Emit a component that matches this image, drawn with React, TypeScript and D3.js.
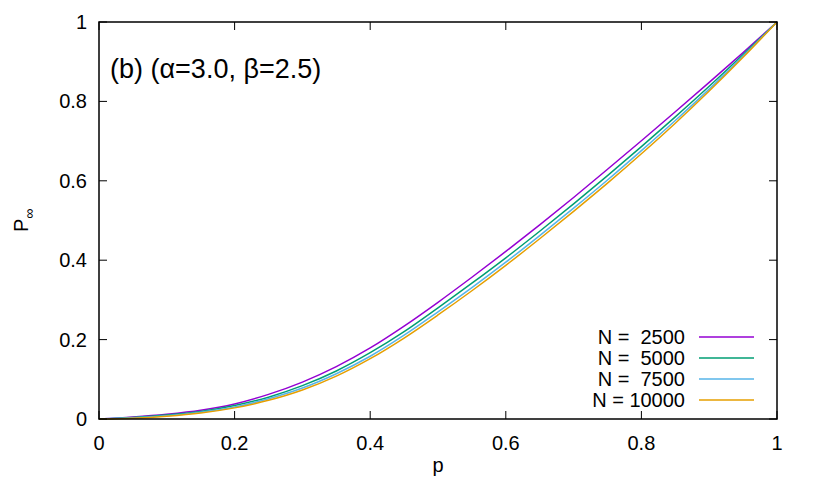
import React from "react";
import * as d3 from "d3";

const pValues = [0, 0.05, 0.1, 0.15, 0.2, 0.25, 0.3, 0.35, 0.4, 0.45, 0.5, 0.55, 0.6, 0.65, 0.7, 0.75, 0.8, 0.85, 0.9, 0.95, 1.0];
const n2500 = [0, 0.005, 0.012, 0.022, 0.038, 0.062, 0.093, 0.132, 0.179, 0.234, 0.294, 0.357, 0.422, 0.489, 0.558, 0.629, 0.701, 0.774, 0.848, 0.923, 1.0];
const n5000 = [0, 0.004, 0.010, 0.019, 0.034, 0.055, 0.084, 0.121, 0.167, 0.220, 0.280, 0.342, 0.406, 0.473, 0.542, 0.613, 0.686, 0.761, 0.838, 0.918, 1.0];
const n7500 = [0, 0.003, 0.008, 0.017, 0.030, 0.051, 0.078, 0.114, 0.158, 0.211, 0.270, 0.331, 0.395, 0.462, 0.531, 0.602, 0.676, 0.752, 0.831, 0.914, 1.0];
const n10000 = [0, 0.002, 0.007, 0.015, 0.028, 0.047, 0.073, 0.108, 0.152, 0.204, 0.262, 0.323, 0.387, 0.454, 0.523, 0.594, 0.668, 0.745, 0.826, 0.911, 1.0];

const seriesLabels = ["N =  2500", "N =  5000", "N =  7500", "N = 10000"];
const seriesData = [n2500, n5000, n7500, n10000];
const colors = ["#9400d3", "#009e73", "#56b4e9", "#e69f00"];
const xTicks = [0, 0.2, 0.4, 0.6, 0.8, 1];
const yTicks = [0, 0.2, 0.4, 0.6, 0.8, 1];
const title = "(b) (α=3.0, β=2.5)";

export default function App() {
  const W = 814, H = 488;
  const L = 99, R = 777, T = 22, B = 419;
  const x = d3.scaleLinear().domain([0, 1]).range([L, R]);
  const y = d3.scaleLinear().domain([0, 1]).range([B, T]);
  const line = d3.line<number>()
    .x((_, i) => x(pValues[i]))
    .y((d) => y(d))
    .curve(d3.curveCatmullRom.alpha(0.5));
  const font = "'Liberation Sans', Arial, Helvetica, sans-serif";
  const tickLen = 8;
  return (
    <div style={{ position: "absolute", left: 0, top: 0 }}>
      <svg width={W} height={H} style={{ display: "block", background: "#fff" }} fontFamily={font}>
        <rect x={0} y={0} width={W} height={H} fill="#fff" />
        {seriesData.map((s, i) => (
          <path key={i} d={line(s) || ""} fill="none" stroke={colors[i]} strokeWidth={1.5} />
        ))}
        {xTicks.map((t) => (
          <g key={"x" + t}>
            <line x1={x(t)} x2={x(t)} y1={B} y2={B - tickLen} stroke="#000" />
            <line x1={x(t)} x2={x(t)} y1={T} y2={T + tickLen} stroke="#000" />
            <text x={x(t)} y={B + 31} textAnchor="middle" fontSize={20}>{String(t)}</text>
          </g>
        ))}
        {yTicks.map((t) => (
          <g key={"y" + t}>
            <line x1={L} x2={L + tickLen} y1={y(t)} y2={y(t)} stroke="#000" />
            <line x1={R} x2={R - tickLen} y1={y(t)} y2={y(t)} stroke="#000" />
            <text x={L - 12} y={y(t) + 7} textAnchor="end" fontSize={20}>{String(t)}</text>
          </g>
        ))}
        <rect x={L} y={T} width={R - L} height={B - T} fill="none" stroke="#000" strokeWidth={1.5} />
        <text x={110} y={78} fontSize={27}>{title}</text>
        <text x={438} y={472} textAnchor="middle" fontSize={20}>p</text>
        <g transform="translate(28,232) rotate(-90)">
          <text x={0} y={0} fontSize={20}>P<tspan dy={6} fontSize={14}>∞</tspan></text>
        </g>
        {seriesLabels.map((lab, i) => {
          const yy = 337 + i * 21;
          return (
            <g key={lab}>
              <text x={685} y={yy + 7} textAnchor="end" fontSize={20} style={{ whiteSpace: "pre" }}>{lab}</text>
              <line x1={699} x2={754} y1={yy} y2={yy} stroke={colors[i]} strokeWidth={1.5} />
            </g>
          );
        })}
      </svg>
    </div>
  );
}
